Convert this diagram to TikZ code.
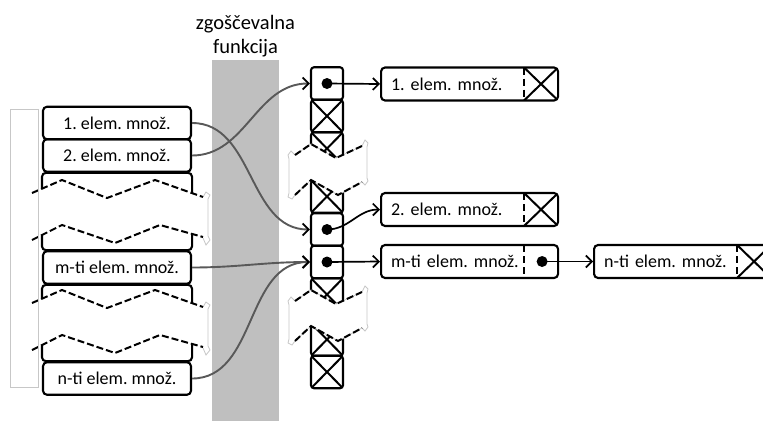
\documentclass[tikz,border=0pt]{standalone}
\usepackage{fontspec}
\setmainfont{Carlito}
\usetikzlibrary{arrows.meta}

\tikzset{
  elem/.style={draw, line width=2.1pt, rounded corners=4pt, minimum width=148pt,
    minimum height=32.5pt, inner sep=0pt, font=\fontsize{18}{21}\selectfont},
  cell/.style={draw, line width=2.1pt, rounded corners=3pt, minimum width=32pt,
    minimum height=32.5pt, inner sep=0pt},
  xcell/.style={cell, path picture={
    \draw[line width=2pt] (path picture bounding box.south west) -- (path picture bounding box.north east)
      (path picture bounding box.north west) -- (path picture bounding box.south east);}},
  rbox/.style={draw, line width=2.1pt, rounded corners=4pt, minimum height=33pt,
    text width=157pt, inner xsep=10pt, inner ysep=0pt, align=left,
    font=\fontsize{18}{21}\selectfont},
  ptrbox/.style={rbox, path picture={
    \draw[line width=1.8pt, dash pattern=on 7pt off 4pt] ([xshift=-34pt]path picture bounding box.north east)
      -- ([xshift=-34pt]path picture bounding box.south east);}},
  nilbox/.style={rbox, path picture={
    \draw[line width=1.8pt, dash pattern=on 7pt off 4pt] ([xshift=-34pt]path picture bounding box.north east)
      -- ([xshift=-34pt]path picture bounding box.south east);
    \draw[line width=2pt] ([xshift=-34pt]path picture bounding box.north east)
      -- (path picture bounding box.south east)
      ([xshift=-34pt]path picture bounding box.south east) -- (path picture bounding box.north east);}},
  dot/.style={circle, fill, inner sep=0pt, minimum size=11pt},
  ptr/.style={line width=1.7pt, -{Straight Barb[length=6pt,width=12pt]}},
  hash/.style={line width=1.9pt, black!65, -{Straight Barb[length=6pt,width=12pt,color=black]}},
  zig/.style={line width=2pt, dash pattern=on 7pt off 3pt},
  pale/.style={draw=black!22, line width=0.8pt},
}

\begin{document}
\frenchspacing
\begin{tikzpicture}[x=1pt,y=-1pt]
\useasboundingbox (0,0) rectangle (763,421);

% hash function
\node[fill=gray!50, minimum width=67pt, minimum height=361pt, inner sep=0pt, anchor=north] (bar) at (245.5,60) {};
\node[anchor=south, align=center, inner sep=3pt, font=\fontsize{20.5}{24}\selectfont] (title) at (bar.north) {zgoščevalna\\funkcija};

% set elements
\node[elem] (e1) at (117,123) {1. elem. množ.};
\node[elem] (e2) at (117,155.5) {2. elem. množ.};
\node[elem] (em) at (117,267.5) {m-ti elem. množ.};
\node[elem] (en) at (117,378.5) {n-ti elem. množ.};
\draw[elem] (e2.south west) rectangle (em.north east);
\draw[elem] (em.south west) rectangle (en.north east);

\foreach \dy in {0,110}
{
  \begin{scope}[shift={(0,\dy)}]
    \fill[white] (32,193) -- (62,180) -- (107,198) -- (155,180) -- (203,197) -- (208,199)
      -- (208,236) -- (203,237) -- (160,225) -- (115,243) -- (62,225) -- (32,240) -- cycle;
    \draw[pale] (203,197) -- (206,192) -- (210,195) -- (208,199) -- (208,236) -- (210,240) -- (206,245) -- (203,238);
    \draw[zig] (32,193) -- (62,180) -- (107,198) -- (155,180) -- (203,197);
    \draw[zig] (32,240) -- (62,225) -- (115,243) -- (160,225) -- (203,237);
  \end{scope}
}
\draw[pale] (10,109) rectangle (38,387);

% hash table
\foreach \n/\y in {2/116,3/148.5,4/196.5,7/294.5,8/339.5,9/372}
  \node[xcell] (c\n) at (327,\y) {};
\foreach \n/\y in {1/83.5,5/229.5,6/262}
{
  \node[cell] (c\n) at (327,\y) {};
  \node[dot] (d\n) at (c\n) {};
}

\foreach \dy in {0,146}
{
  \begin{scope}[shift={(0,\dy)}]
    \filldraw[pale, fill=white] (295,155) -- (311,144) -- (336,158) -- (362,146) -- (365,140) -- (368,143)
      -- (367,147) -- (367,178) -- (368,181) -- (365,185) -- (362,182) -- (338,195) -- (311,180)
      -- (295,195) -- (292,199) -- (288,197) -- (289,193) -- (289,159) -- (288,155) -- (291,151) -- cycle;
    \draw[zig] (295,155) -- (311,144) -- (336,158) -- (362,146);
    \draw[zig] (295,195) -- (311,180) -- (338,195) -- (362,182);
  \end{scope}
}

% lists
\node[nilbox, anchor=west] (b1) at (380,84) {1. elem. množ.};
\node[nilbox, anchor=west] (b2) at (380,209.5) {2. elem. množ.};
\node[ptrbox, anchor=west] (bm) at (380,261.5) {m-ti elem. množ.};
\node[nilbox, anchor=west] (bn) at (593,261.5) {n-ti elem. množ.};
\node[dot] (dm) at ([xshift=-17pt]bm.east) {};

\draw[ptr] (d1.center) -- (b1.west);
\draw[ptr] (d5.center) to[out=0,in=180] (b2.west);
\draw[ptr] (d6.center) -- (bm.west);
\draw[ptr] (dm.center) -- (bn.west);

\draw[hash] (e1.east) to[out=0,in=180] (c5.west);
\draw[hash] (e2.east) to[out=0,in=180] (c1.west);
\draw[hash] (em.east) to[out=0,in=180] (c6.west);
\draw[hash] (en.east) to[out=0,in=180] (c6.west);
\end{tikzpicture}
\end{document}
